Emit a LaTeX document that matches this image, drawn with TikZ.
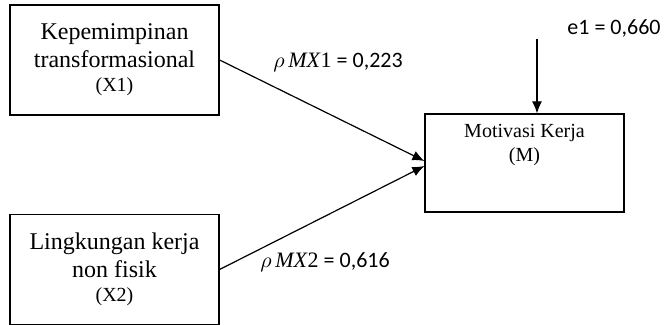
\documentclass[tikz,border=0pt]{standalone}
\usepackage{fontspec}
\setmainfont{Liberation Serif}
\newfontfamily\coeffont{Carlito}
\usetikzlibrary{arrows.meta}

\begin{document}
\begin{tikzpicture}[x=0.5pt, y=-0.5pt,
    varbox/.style={draw, line width=0.6pt, align=center, inner sep=0pt},
    coef/.style={font=\coeffont\fontsize{11}{13}\selectfont, inner sep=0pt},
    path/.style={line width=0.6pt, -{Latex[length=6pt, width=5pt]}}]

    \useasboundingbox (0,0) rectangle (665,325);

    % Variables on the left
    \node[varbox, minimum width=104.5pt, minimum height=55pt,
        font=\fontsize{12}{14}\selectfont] (X1) at (114.5,60)
        {Kepemimpinan\\transformasional\\[-2pt]{\fontsize{10}{12}\selectfont (X1)}};

    \node[varbox, minimum width=104.5pt, minimum height=55pt,
        font=\fontsize{12}{14}\selectfont] (X2) at (114.5,269.5)
        {Lingkungan kerja\\non fisik\\[-2pt]{\fontsize{10}{12}\selectfont (X2)}};

    % Box on the right
    \node[varbox, minimum width=99.5pt, minimum height=49pt] (M) at (524.5,163) {};
    \node[anchor=north, inner sep=0pt, align=center,
        font=\fontsize{10}{12}\selectfont] (Mtext) at ([yshift=-5pt]M.north)
        {Motivasi Kerja\\(M)};

    % Residual
    \coordinate (e1) at (537,39);
    \node[coef] (e1lab) at (614,28) {e1 = 0,660};
    \draw[path] (e1) -- (e1 |- M.north);

    % Paths
    \draw[path] (X1.east) -- ([yshift=1pt]M.west);
    \draw[path] (X2.east) -- ([yshift=-1.5pt]M.west);

    \node[coef] (p1) at (338,62) {{\rmfamily$\rho$\,\textit{MX}1} = 0,223};
    \node[coef] (p2) at (325,262) {{\rmfamily$\rho$\,\textit{MX}2} = 0,616};

\end{tikzpicture}
\end{document}
